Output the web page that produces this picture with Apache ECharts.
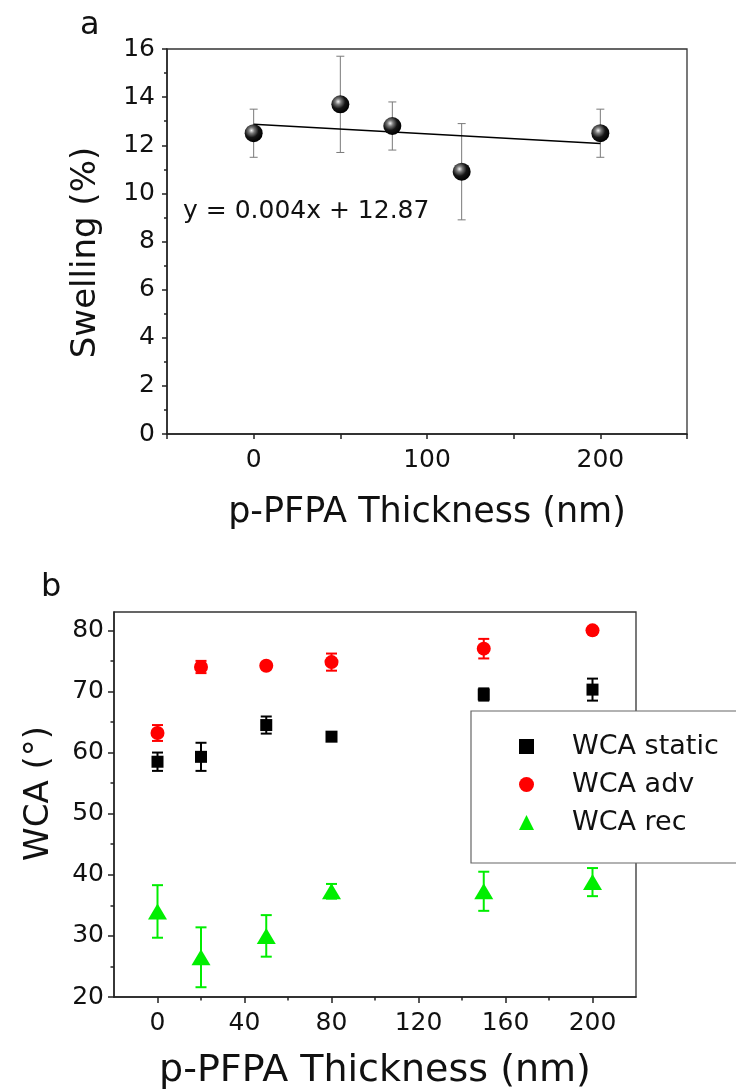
<!DOCTYPE html>
<html>
<head>
<meta charset="utf-8">
<title>p-PFPA thickness: swelling and water contact angle</title>
<script src="https://cdn.jsdelivr.net/npm/echarts@6/dist/echarts.min.js"></script>
<style>
  html, body { margin: 0; padding: 0; background: #fff; }
  #chart { width: 736px; height: 1091px; }
</style>
</head>
<body>
<div id="chart"></div>
<script>
// ---- Panel a: swelling vs p-PFPA thickness ----
const swellThickness = [0, 50, 80, 120, 200];
const swellValue     = [12.5, 13.7, 12.8, 10.9, 12.5];
const swellError     = [1.0, 2.0, 1.0, 2.0, 1.0];
const fitIntercept   = 12.87;
const fitSlope       = -0.004;
const fitRange       = [0, 200];
const fitLabel       = 'y = 0.004x + 12.87';

// ---- Panel b: water contact angles ----
const wcaThickness   = [0, 20, 50, 80, 150, 200];
const wcaStatic      = [58.5, 59.3, 64.5, 62.6, 69.5, 70.3];
const wcaStaticErr   = [1.5, 2.3, 1.4, 0.5, 1.0, 1.8];
const wcaAdv         = [63.2, 74.0, 74.2, 74.8, 77.0, 80.0];
const wcaAdvErr      = [1.3, 1.0, 0.5, 1.4, 1.6, 0.5];
const wcaRec         = [34.0, 26.5, 30.0, 37.3, 37.3, 38.8];
const wcaRecErr      = [4.3, 4.9, 3.4, 1.2, 3.2, 2.3];
const seriesNames    = ['WCA static', 'WCA adv', 'WCA rec'];

// tick positions
const aYMajorStep = 2;
const bXMajorTicks = [0, 40, 80, 120, 160, 200];
const bXMinorTicks = [20, 60, 100, 140, 180];
const bYMajorTicks = [20, 30, 40, 50, 60, 70, 80];
const bYMinorTicks = [25, 35, 45, 55, 65, 75];

const FONT = 'DejaVu Sans';
const INK = '#111';

function pairs(xs, ys) { return xs.map((x, i) => [x, ys[i]]); }
function bars(xs, ys, es) { return xs.map((x, i) => [x, ys[i] - es[i], ys[i] + es[i]]); }

// vertical error bar with caps
function errorBar(capHalf, width, color) {
  return function (params, api) {
    const x = api.value(0);
    const lo = api.coord([x, api.value(1)]);
    const hi = api.coord([x, api.value(2)]);
    const st = { stroke: color, lineWidth: width };
    return {
      type: 'group',
      children: [
        { type: 'line', shape: { x1: hi[0], y1: hi[1], x2: lo[0], y2: lo[1] }, style: st },
        { type: 'line', shape: { x1: hi[0] - capHalf, y1: hi[1], x2: hi[0] + capHalf, y2: hi[1] }, style: st },
        { type: 'line', shape: { x1: lo[0] - capHalf, y1: lo[1], x2: lo[0] + capHalf, y2: lo[1] }, style: st }
      ]
    };
  };
}

const fitData = fitRange.map(x => [x, fitIntercept + fitSlope * x]);

const sphere = {
  type: 'radial', x: 0.38, y: 0.35, r: 0.65,
  colorStops: [
    { offset: 0, color: '#f2f2f2' },
    { offset: 0.25, color: '#7a7a7a' },
    { offset: 0.6, color: '#151515' },
    { offset: 1, color: '#000' }
  ]
};

const axisLineStyle = { color: '#222', width: 1.5 };
const tickLabel = { fontFamily: FONT, fontSize: 25, color: INK };
const nameStyle = { fontFamily: FONT, fontSize: 34, color: INK };

const colors = ['#000000', '#ff0000', '#00ee00'];
const bValues = [wcaStatic, wcaAdv, wcaRec];
const bErrors = [wcaStaticErr, wcaAdvErr, wcaRecErr];
const bSymbols = ['rect', 'circle', 'triangle'];
const bSizes = [12, 14, [19, 16]];

const chart = echarts.init(document.getElementById('chart'), null, { renderer: 'canvas' });

const series = [
  {
    type: 'custom', xAxisIndex: 0, yAxisIndex: 0, silent: true, z: 2,
    renderItem: errorBar(4, 1, '#7a7a7a'),
    encode: { x: 0, y: [1, 2] },
    data: bars(swellThickness, swellValue, swellError)
  },
  {
    type: 'line', xAxisIndex: 0, yAxisIndex: 0, silent: true, z: 3,
    showSymbol: false, symbol: 'none',
    lineStyle: { color: '#000', width: 1.6 },
    data: fitData
  },
  {
    type: 'scatter', xAxisIndex: 0, yAxisIndex: 0, z: 4,
    symbol: 'circle', symbolSize: 18,
    itemStyle: { color: sphere, opacity: 1 },
    data: pairs(swellThickness, swellValue)
  }
];

bValues.forEach((vals, k) => {
  series.push({
    type: 'custom', xAxisIndex: 1, yAxisIndex: 1, silent: true, z: 2,
    renderItem: errorBar(5.5, 2, colors[k]),
    encode: { x: 0, y: [1, 2] },
    data: bars(wcaThickness, vals, bErrors[k])
  });
});
bValues.forEach((vals, k) => {
  series.push({
    name: seriesNames[k],
    type: 'scatter', xAxisIndex: 1, yAxisIndex: 1, z: 4,
    symbol: bSymbols[k], symbolSize: bSizes[k],
    itemStyle: { color: colors[k], opacity: 1 },
    data: pairs(wcaThickness, vals)
  });
});

const option = {
  animation: false,
  backgroundColor: '#fff',
  textStyle: { fontFamily: FONT },
  grid: [
    { left: 167, top: 49, width: 520, height: 385, show: true, borderColor: '#333', borderWidth: 1.3, backgroundColor: 'transparent' },
    { left: 114, top: 612, width: 522, height: 387, show: true, borderColor: '#333', borderWidth: 1.3, backgroundColor: 'transparent' }
  ],
  xAxis: [
    {
      gridIndex: 0, type: 'value', position: 'bottom', min: -50, max: 250, interval: 50,
      name: 'p-PFPA Thickness (nm)', nameLocation: 'middle', nameGap: 61, nameTextStyle: Object.assign({}, nameStyle, { fontSize: 35 }),
      axisLine: { onZero: false, lineStyle: axisLineStyle },
      axisTick: { length: 5, lineStyle: axisLineStyle },
      axisLabel: Object.assign({ margin: 14, formatter: v => (v >= 0 && v <= 200 && v % 100 === 0) ? String(v) : '' }, tickLabel),
      splitLine: { show: false }
    },
    {
      gridIndex: 1, type: 'value', position: 'bottom', min: -20, max: 220,
      name: 'p-PFPA Thickness (nm)', nameLocation: 'middle', nameGap: 55, nameTextStyle: Object.assign({}, nameStyle, { fontSize: 38 }),
      axisLine: { onZero: false, lineStyle: axisLineStyle },
      axisTick: { length: 6, lineStyle: axisLineStyle, customValues: bXMajorTicks },
      axisLabel: Object.assign({ margin: 14, customValues: bXMajorTicks }, tickLabel),
      splitLine: { show: false }
    },
    {
      gridIndex: 1, type: 'value', position: 'bottom', min: -20, max: 220,
      axisLine: { show: false, onZero: false },
      axisTick: { length: 3.5, lineStyle: axisLineStyle, customValues: bXMinorTicks },
      axisLabel: { show: false, customValues: bXMinorTicks },
      splitLine: { show: false }
    }
  ],
  yAxis: [
    {
      gridIndex: 0, type: 'value', position: 'left', min: 0, max: 16, interval: aYMajorStep,
      name: 'Swelling (%)', nameLocation: 'middle', nameGap: 64, nameRotate: 90,
      nameTextStyle: Object.assign({}, nameStyle, { padding: [0, 22, 0, 0] }),
      axisLine: { onZero: false, lineStyle: axisLineStyle },
      axisTick: { length: 5, lineStyle: axisLineStyle },
      minorTick: { show: true, splitNumber: 2, length: 3, lineStyle: axisLineStyle },
      axisLabel: Object.assign({ margin: 12 }, tickLabel),
      splitLine: { show: false }, minorSplitLine: { show: false }
    },
    {
      gridIndex: 1, type: 'value', position: 'left', min: 20, max: 83,
      name: 'WCA (°)', nameLocation: 'middle', nameGap: 58, nameRotate: 90,
      nameTextStyle: Object.assign({}, nameStyle, { padding: [0, 0, 0, 22] }),
      axisLine: { onZero: false, lineStyle: axisLineStyle },
      axisTick: { length: 6, lineStyle: axisLineStyle, customValues: bYMajorTicks },
      axisLabel: Object.assign({ margin: 10, customValues: bYMajorTicks }, tickLabel),
      splitLine: { show: false }
    },
    {
      gridIndex: 1, type: 'value', position: 'left', min: 20, max: 83,
      axisLine: { show: false, onZero: false },
      axisTick: { length: 3.5, lineStyle: axisLineStyle, customValues: bYMinorTicks },
      axisLabel: { show: false, customValues: bYMinorTicks },
      splitLine: { show: false }
    }
  ],
  legend: {
    orient: 'vertical', left: 471, top: 711,
    padding: [22, 120, 27, 48],
    itemWidth: 15, itemHeight: 15, itemGap: 11,
    backgroundColor: '#fff', borderColor: '#666', borderWidth: 1.2, borderRadius: 0,
    selectedMode: false,
    textStyle: { fontFamily: FONT, fontSize: 27, color: INK, padding: [0, 0, 0, 33] },
    data: seriesNames.map((n, k) => ({ name: n, icon: bSymbols[k] }))
  },
  graphic: [
    { type: 'text', left: 183, top: 199, silent: true,
      style: { text: fitLabel, font: '25px "DejaVu Sans"', fill: INK } },
    { type: 'text', left: 80, top: 10, silent: true,
      style: { text: 'a', font: '32px "DejaVu Sans"', fill: INK } },
    { type: 'text', left: 41, top: 572, silent: true,
      style: { text: 'b', font: '32px "DejaVu Sans"', fill: INK } }
  ],
  series: series
};

chart.setOption(option);
</script>
</body>
</html>
